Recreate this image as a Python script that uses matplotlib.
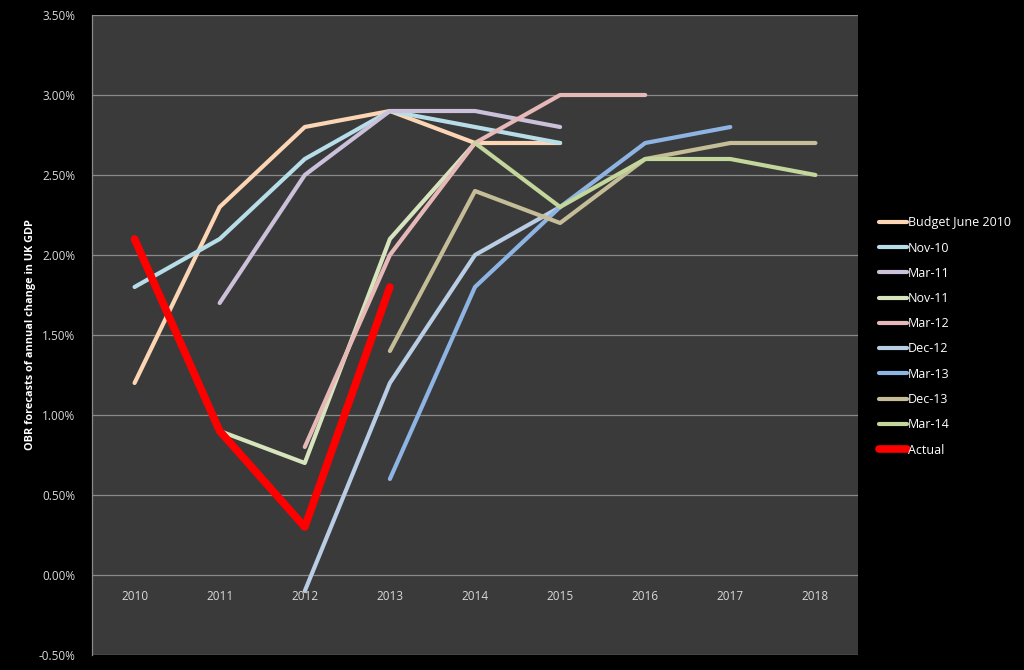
import matplotlib
matplotlib.use("Agg")
import matplotlib.pyplot as plt
import numpy as np

years = ["2010", "2011", "2012", "2013", "2014", "2015", "2016", "2017", "2018"]
nan = np.nan

budget_june_2010 = [1.2, 2.3, 2.8, 2.9, 2.7, 2.7, nan, nan, nan]
nov_10 = [1.8, 2.1, 2.6, 2.9, 2.8, 2.7, nan, nan, nan]
mar_11 = [nan, 1.7, 2.5, 2.9, 2.9, 2.8, nan, nan, nan]
nov_11 = [nan, 0.9, 0.7, 2.1, 2.7, nan, nan, nan, nan]
mar_12 = [nan, nan, 0.8, 2.0, 2.7, 3.0, 3.0, nan, nan]
dec_12 = [nan, nan, -0.1, 1.2, 2.0, 2.3, nan, nan, nan]
mar_13 = [nan, nan, nan, 0.6, 1.8, 2.3, 2.7, 2.8, nan]
dec_13 = [nan, nan, nan, 1.4, 2.4, 2.2, 2.6, 2.7, 2.7]
mar_14 = [nan, nan, nan, nan, 2.7, 2.3, 2.6, 2.6, 2.5]
actual = [2.1, 0.9, 0.3, 1.8, nan, nan, nan, nan, nan]

series = [
    ("Budget June 2010", budget_june_2010, "#fcd5b5"),
    ("Nov-10", nov_10, "#b7dee8"),
    ("Mar-11", mar_11, "#ccc1da"),
    ("Nov-11", nov_11, "#d7e4bd"),
    ("Mar-12", mar_12, "#e6b9b8"),
    ("Dec-12", dec_12, "#b9cde5"),
    ("Mar-13", mar_13, "#8eb4e3"),
    ("Dec-13", dec_13, "#c4bd97"),
    ("Mar-14", mar_14, "#c3d69b"),
]

plt.rcParams['font.family'] = ['Open Sans', 'DejaVu Sans']

fig = plt.figure(figsize=(10.24, 6.70), dpi=100, facecolor="black")
ax = fig.add_axes([92/1024, 1-655/670, (858-92)/1024, (655-15)/670])
ax.set_facecolor("#3a3a3a")

x = np.arange(len(years))
for name, vals, col in series:
    ax.plot(x, vals, color=col, lw=3.0, solid_capstyle="round", solid_joinstyle="round", label=name, zorder=3)
ax.plot(x, actual, color="#ff0000", lw=5.5, solid_capstyle="round", solid_joinstyle="round", label="Actual", zorder=4)

ax.set_xlim(-0.5, len(years) - 0.5)
ax.set_ylim(-0.5, 3.5)
yt = np.arange(-0.5, 3.51, 0.5)
ax.set_yticks(yt)
ax.set_yticklabels([f"{v:.2f}%" for v in yt])
ax.set_xticks(x)
ax.set_xticklabels(years)
ax.grid(axis="y", color="#8a8a8a", lw=0.9, zorder=1)
ax.set_axisbelow(True)

for s in ["top", "right"]:
    ax.spines[s].set_visible(False)
ax.spines["bottom"].set_position(("data", 0))
ax.spines["bottom"].set_visible(False)
ax.spines["left"].set_color("#8a8a8a")
ax.spines["left"].set_linewidth(0.9)
ax.tick_params(axis="x", length=0, pad=11, colors="#d9d9d9", labelsize=8.5)
ax.tick_params(axis="y", length=0, pad=12, colors="#d9d9d9", labelsize=8.5)

ax.set_ylabel("OBR forecasts of annual change in UK GDP", color="white",
              fontweight="bold", fontsize=7.8, labelpad=2)

leg = fig.legend(loc="upper left", bbox_to_anchor=(868/1024, 1-205/670), frameon=False,
                 fontsize=9, labelcolor="white", handlelength=2.2, handletextpad=0.1,
                 labelspacing=0.98)
for line in leg.get_lines():
    line.set_solid_capstyle("round")

fig.savefig("out.png", dpi=100, facecolor="black")
